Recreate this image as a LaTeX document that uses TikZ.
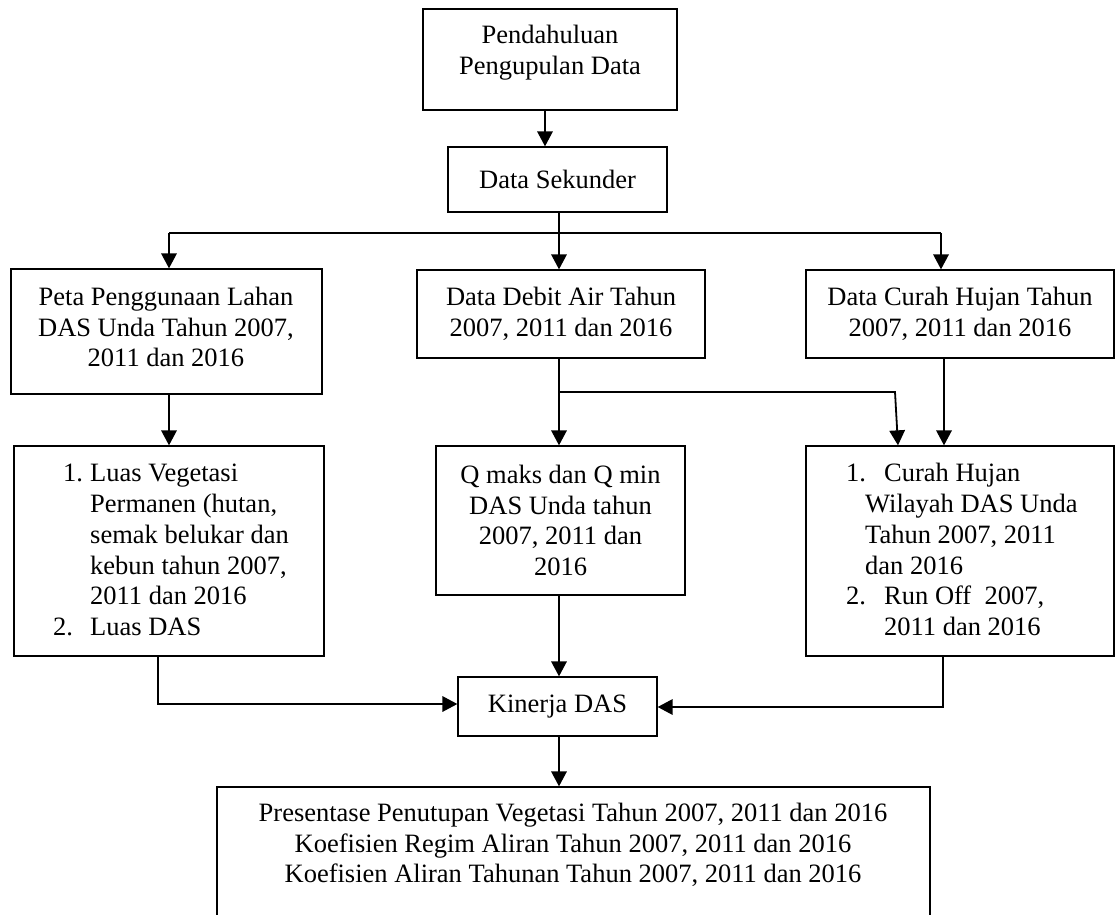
\documentclass[tikz,border=0pt]{standalone}
\usepackage{fontspec}
\setmainfont{Liberation Serif}
\usetikzlibrary{arrows.meta,calc}
\newcommand\dgfont{\fontsize{26.5}{30.7}\selectfont}
\begin{document}
\begin{tikzpicture}[x=1pt,y=-1pt,
  box/.style={draw,line width=1.3pt,inner sep=0pt,align=center,font=\dgfont},
  txt/.style={inner sep=0pt,font=\dgfont,align=center},
  lt/.style={inner sep=0pt,font=\dgfont,anchor=base west},
  ln/.style={line width=1.8pt},
  arr/.style={ln,-{Triangle[length=15pt,width=15.5pt]}}]
\clip (0,0) rectangle (1116,915);
\fill[white] (0,0) rectangle (1116,915);

% boxes
\node[box,minimum width=254pt,minimum height=101pt] (top) at (550,59.5) {};
\node[txt] (toptx) at (550,53) {Pendahuluan\\Pengupulan Data};
\node[box,minimum width=219pt,minimum height=65pt] (sek) at (557.5,179.5) {Data Sekunder};

\node[box,minimum width=311pt,minimum height=125pt] (peta) at (166.5,331.5) {};
\node[txt] (petatx) at (166,327) {Peta Penggunaan Lahan\\DAS Unda Tahun 2007,\\2011 dan 2016};
\node[box,minimum width=288pt,minimum height=88pt] (debit) at (561,314) {Data Debit Air Tahun\\2007, 2011 dan 2016};
\node[box,minimum width=308pt,minimum height=88pt] (curah) at (960,314) {Data Curah Hujan Tahun\\2007, 2011 dan 2016};

\node[box,minimum width=310pt,minimum height=210pt] (luas) at (169,551) {};
\node[lt] (l1n) at (63,481) {1.};
\node[lt] (l1) at (90,481) {Luas Vegetasi};
\node[lt] (l2) at (90,512) {Permanen (hutan,};
\node[lt] (l3) at (90,543) {semak belukar dan};
\node[lt] (l4) at (90,574) {kebun tahun 2007,};
\node[lt] (l5) at (90,604) {2011 dan 2016};
\node[lt] (l6n) at (53,635) {2.};
\node[lt] (l6) at (90,635) {Luas DAS};

\node[box,minimum width=249pt,minimum height=149pt] (qmaks) at (560.5,520.5) {Q maks dan Q min\\DAS Unda tahun\\2007, 2011 dan\\2016};

\node[box,minimum width=308pt,minimum height=210pt] (curah2) at (960,551) {};
\node[lt] (r1n) at (846,481) {1.};
\node[lt] (r1) at (884,481) {Curah Hujan};
\node[lt] (r2) at (865,512) {Wilayah DAS Unda};
\node[lt] (r3) at (865,543) {Tahun 2007, 2011};
\node[lt] (r4) at (865,574) {dan 2016};
\node[lt] (r5n) at (846,604) {2.};
\node[lt] (r5) at (884,604) {Run Off\ \ 2007,};
\node[lt] (r6) at (884,635) {2011 dan 2016};

\node[box,minimum width=199pt,minimum height=59pt] (kin) at (557.5,706.5) {Kinerja DAS};

\node[box,minimum width=713pt,minimum height=143pt] (bot) at (573.5,858.5) {};
\node[txt] (bottx) at (573,845) {Presentase Penutupan Vegetasi Tahun 2007, 2011 dan 2016\\Koefisien Regim Aliran Tahun 2007, 2011 dan 2016\\Koefisien Aliran Tahunan Tahun 2007, 2011 dan 2016};

% connectors
\draw[arr] ([xshift=-5pt]top.south) -- ([xshift=-12.5pt]sek.north);
\coordinate (bar) at (559,233);
\coordinate (barL) at (169,233);
\coordinate (barR) at (941,233);
\draw[ln] (sek.south -| bar) -- (bar);
\draw[ln] (barL) -- (barR);
\draw[arr] (barL) -- (barL |- peta.north);
\draw[arr] (bar) -- (bar |- debit.north);
\draw[arr] (barR) -- (barR |- curah.north);

\draw[arr] (barL |- peta.south) -- (barL |- luas.north);
\draw[arr] (bar |- debit.south) -- (bar |- qmaks.north);
\coordinate (db) at (559,392);
\coordinate (dbR) at (895,392);
\draw[arr] (db) -- (dbR) -- ([xshift=-62pt]curah2.north);
\draw[arr] ([xshift=-16pt]curah.south) -- ([xshift=-16pt]curah2.north);

\draw[arr] ([xshift=-11pt]luas.south) |- ([yshift=2.5pt]kin.west);
\draw[arr] ([xshift=-17pt]curah2.south) |- ([yshift=-0.5pt]kin.east);
\draw[arr] ([xshift=-1.5pt]qmaks.south) -- ([xshift=1.5pt]kin.north);
\draw[arr] ([xshift=1.5pt]kin.south) -- ([xshift=-14.5pt]bot.north);
\end{tikzpicture}
\end{document}
